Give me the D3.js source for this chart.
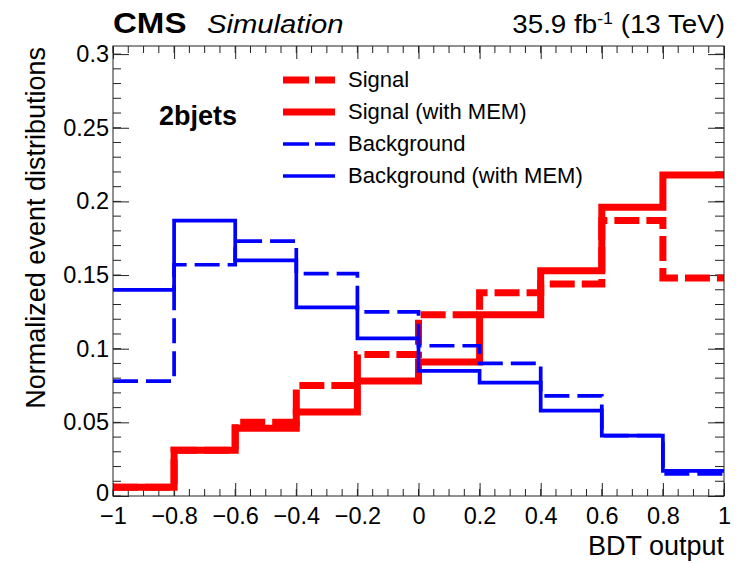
<!DOCTYPE html>
<html>
<head>
<meta charset="utf-8">
<script src="https://cdn.jsdelivr.net/npm/d3@7"></script>
<style>
  body { margin: 0; background: #fff; }
  svg { display: block; font-family: "Liberation Sans", Arial, sans-serif; }
</style>
</head>
<body>
<svg width="743" height="563"></svg>
<script>
// bin edges of the BDT output histograms
var binEdges = [-1, -0.8, -0.6, -0.4, -0.2, 0, 0.2, 0.4, 0.6, 0.8, 1];

// normalized bin contents
var signal        = [0.006, 0.031, 0.050, 0.075, 0.096, 0.123, 0.138, 0.144, 0.187, 0.148];
var signalMEM     = [0.006, 0.031, 0.046, 0.057, 0.078, 0.091, 0.123, 0.153, 0.196, 0.218];
var background    = [0.078, 0.157, 0.173, 0.151, 0.125, 0.102, 0.090, 0.068, 0.041, 0.015];
var backgroundMEM = [0.140, 0.187, 0.160, 0.128, 0.107, 0.085, 0.077, 0.058, 0.041, 0.017];

var xTickValues = [-1, -0.8, -0.6, -0.4, -0.2, 0, 0.2, 0.4, 0.6, 0.8, 1];
var xTickLabels = ['\u22121', '\u22120.8', '\u22120.6', '\u22120.4', '\u22120.2', '0', '0.2', '0.4', '0.6', '0.8', '1'];
var yTickValues = [0, 0.05, 0.1, 0.15, 0.2, 0.25, 0.3];
var yTickLabels = ['0', '0.05', '0.1', '0.15', '0.2', '0.25', '0.3'];

var seriesNames = ['Signal', 'Signal (with MEM)', 'Background', 'Background (with MEM)'];

var svg = d3.select('svg');
var padLeft = 113, padRight = 724, padTop = 46, padBottom = 496;

var x = d3.scaleLinear().domain([-1, 1]).range([padLeft, padRight]);
var y = d3.scaleLinear().domain([0, 0.3055]).range([padBottom, padTop]);

var xMinor = d3.range(0, 41).map(function(i) { return -1 + i * 0.05; });
var yMinor = d3.range(0, 31).map(function(i) { return i * 0.01; });

//Minor ticks (inside the frame, on all four sides)
var minor = svg.append('g').attr('stroke', '#222').attr('stroke-width', 1);
xMinor.forEach(function(v) {
  minor.append('line').attr('x1', x(v)).attr('x2', x(v)).attr('y1', padBottom).attr('y2', padBottom - 7);
  minor.append('line').attr('x1', x(v)).attr('x2', x(v)).attr('y1', padTop).attr('y2', padTop + 7);
});
yMinor.forEach(function(v) {
  minor.append('line').attr('y1', y(v)).attr('y2', y(v)).attr('x1', padLeft).attr('x2', padLeft + 8);
  minor.append('line').attr('y1', y(v)).attr('y2', y(v)).attr('x1', padRight).attr('x2', padRight - 9);
});

//Major ticks + labels through d3 axes
var xAxis = svg.append('g')
  .attr('transform', 'translate(0,' + padBottom + ')')
  .call(d3.axisBottom(x).tickValues(xTickValues).tickSize(-13).tickPadding(11)
    .tickFormat(function(d, i) { return xTickLabels[i]; }));
var xAxisTop = svg.append('g')
  .attr('transform', 'translate(0,' + padTop + ')')
  .call(d3.axisTop(x).tickValues(xTickValues).tickSize(-13).tickFormat(''));
var yAxis = svg.append('g')
  .attr('transform', 'translate(' + padLeft + ',0)')
  .call(d3.axisLeft(y).tickValues(yTickValues).tickSize(-16).tickPadding(4)
    .tickFormat(function(d, i) { return yTickLabels[i]; }));
var yAxisRight = svg.append('g')
  .attr('transform', 'translate(' + padRight + ',0)')
  .call(d3.axisRight(y).tickValues(yTickValues).tickSize(-16).tickFormat(''));

[xAxis, xAxisTop, yAxis, yAxisRight].forEach(function(g) {
  g.select('.domain').remove();
  g.selectAll('line').attr('stroke', '#222');
  g.selectAll('text').attr('font-family', '"Liberation Sans", Arial, sans-serif')
    .attr('font-size', 23.5).attr('fill', '#000');
});
// keep the "0" of the y axis clear of the "-1" below it
yAxis.selectAll('text').filter(function(d) { return d === 0; }).attr('dy', '0.2em');

//Histogram outlines
var stepLine = d3.line()
  .x(function(d) { return x(d[0]); })
  .y(function(d) { return y(d[1]); })
  .curve(d3.curveStepAfter);

var toPoints = function(values) {
  var pts = values.map(function(v, i) { return [binEdges[i], v]; });
  pts.push([binEdges[binEdges.length - 1], values[values.length - 1]]);
  return pts;
};

var styles = [
  { data: signal,        color: '#ff0000', width: 7,   dash: '25,7' },
  { data: signalMEM,     color: '#ff0000', width: 7,   dash: null },
  { data: background,    color: '#0000ff', width: 3.7, dash: '25,8' },
  { data: backgroundMEM, color: '#0000ff', width: 3.7, dash: null }
];

var plot = svg.append('g');
plot.selectAll('path')
  .data(styles)
  .enter()
  .append('path')
  .attr('d', function(d) { return stepLine(toPoints(d.data)); })
  .attr('fill', 'none')
  .attr('stroke', function(d) { return d.color; })
  .attr('stroke-width', function(d) { return d.width; })
  .attr('stroke-dasharray', function(d) { return d.dash; });

//Frame
svg.append('rect')
  .attr('x', padLeft).attr('y', padTop)
  .attr('width', padRight - padLeft).attr('height', padBottom - padTop)
  .attr('fill', 'none').attr('stroke', '#222').attr('stroke-width', 1);

//Legend
var legend = svg.append('g');
styles.forEach(function(s, i) {
  var ly = 80 + i * 32;
  legend.append('line')
    .attr('x1', 283).attr('x2', 335).attr('y1', ly).attr('y2', ly)
    .attr('stroke', s.color).attr('stroke-width', s.width)
    .attr('stroke-dasharray', s.dash ? '26,6' : null);
  legend.append('text')
    .attr('x', 348).attr('y', ly + 7)
    .attr('font-size', 22)
    .text(seriesNames[i]);
});

svg.append('text')
  .attr('x', 159).attr('y', 125)
  .attr('font-size', 27).attr('font-weight', 'bold')
  .text('2bjets');

//Titles (the original's lettering is a little wider than Liberation Sans)
var stretched = function(px, py, sx) {
  return svg.append('text')
    .attr('transform', 'translate(' + px + ',' + py + ') scale(' + sx + ',1)');
};

stretched(113, 33, 1.14)
  .attr('font-size', 29).attr('font-weight', 'bold')
  .text('CMS');
stretched(207, 33, 1.17)
  .attr('font-size', 25).attr('font-style', 'italic')
  .text('Simulation');

var lumi = stretched(725, 33, 1.11)
  .attr('text-anchor', 'end')
  .attr('font-size', 25);
lumi.append('tspan').text('35.9 fb');
lumi.append('tspan').attr('dy', -9).attr('font-size', 16).text('-1');
lumi.append('tspan').attr('dy', 9).text(' (13 TeV)');

svg.append('text')
  .attr('x', padRight).attr('y', 555)
  .attr('text-anchor', 'end')
  .attr('font-size', 27)
  .text('BDT output');

svg.append('text')
  .attr('transform', 'translate(45,' + (padTop + 1) + ') rotate(-90)')
  .attr('text-anchor', 'end')
  .attr('font-size', 27)
  .text('Normalized event distributions');
</script>
</body>
</html>
